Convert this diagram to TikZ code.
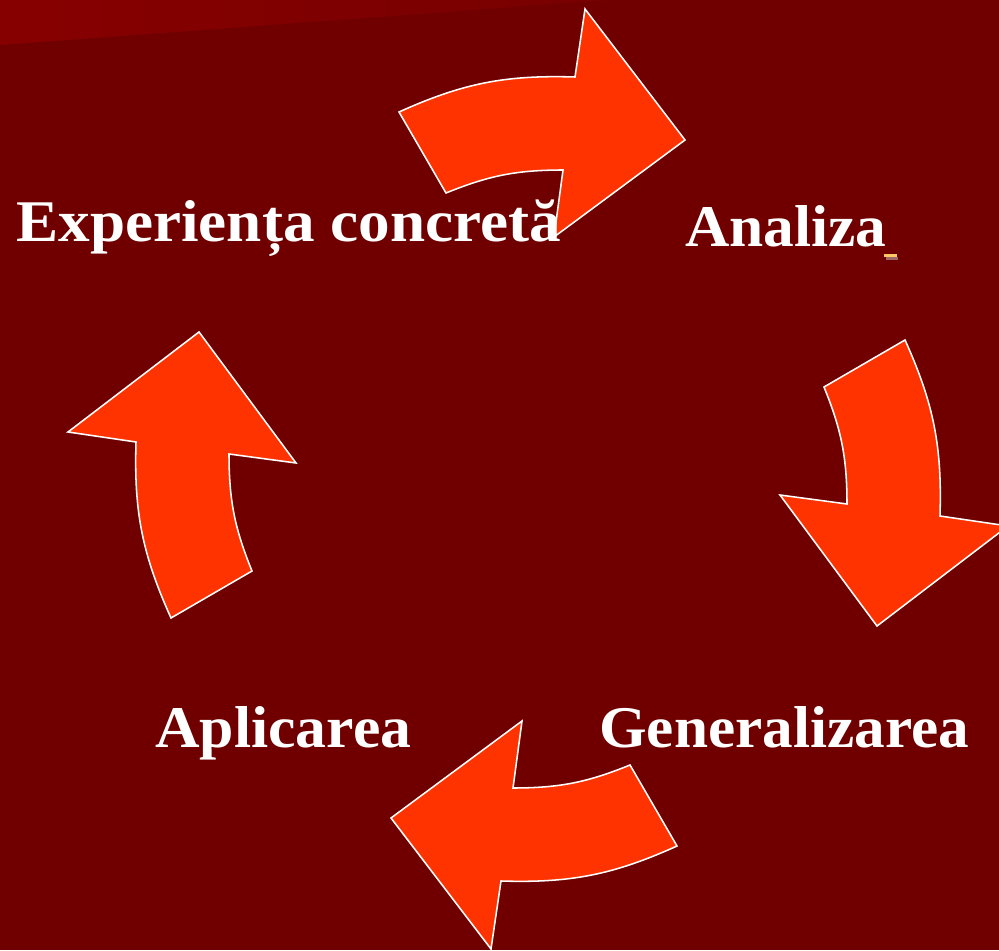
\documentclass[tikz,border=0pt]{standalone}
\usepackage{fontspec}
\setmainfont{Liberation Serif}
\definecolor{bgred}{HTML}{700000}
\definecolor{stripleft}{HTML}{870000}
\definecolor{stripright}{HTML}{780000}
\definecolor{arrowred}{HTML}{FF3300}
\definecolor{dashyellow}{HTML}{FFC864}
\definecolor{dashshadow}{HTML}{9E6868}

\begin{document}
\begin{tikzpicture}[x=0.025cm, y=0.025cm,
    stage/.style={text=white, font=\fontsize{42}{50}\selectfont\bfseries, inner sep=0pt, anchor=base west},
    cyclearrow/.style={fill=arrowred, draw=white, line width=1.1pt, line join=miter}]

    %background and top strip
        \useasboundingbox (0,0) rectangle (999,950);
        \clip (0,0) rectangle (999,950);
        \fill[bgred] (0,0) rectangle (999,950);
        \shade[left color=stripleft, right color=stripright] (0,950) -- (0,905) -- (609,950) -- cycle;

    %centre of the cycle
        \coordinate (C) at (538,471);

    %four curved arrows, one every quarter turn
        \foreach \ang in {0,-90,-180,-270}{
            \begin{scope}[shift={(C)}, rotate=\ang]
                \draw[cyclearrow] (-139,367) to[bend left=13] (37,402) -- (47,470) -- (147,339)
                    -- (16,242) -- (25,309) to[bend right=11] (-92,286) -- cycle;
            \end{scope}
        }

    %stages
        \node[stage] (exp) at (16,708) {\scalebox{1.07}[1]{Experiența concretă}};
        \node[stage] (ana) at (685,703) {\scalebox{1.04}[1]{Analiza}};
        \node[stage] (gen) at (599,203) {\scalebox{1.037}[1]{Generalizarea}};
        \node[stage] (apl) at (155,203) {\scalebox{1.045}[1]{Aplicarea}};

    %small mark after Analiza
        \fill[dashshadow] (886,690) rectangle (898,693);
        \fill[dashyellow] (884,693) rectangle (897,696);

\end{tikzpicture}
\end{document}
